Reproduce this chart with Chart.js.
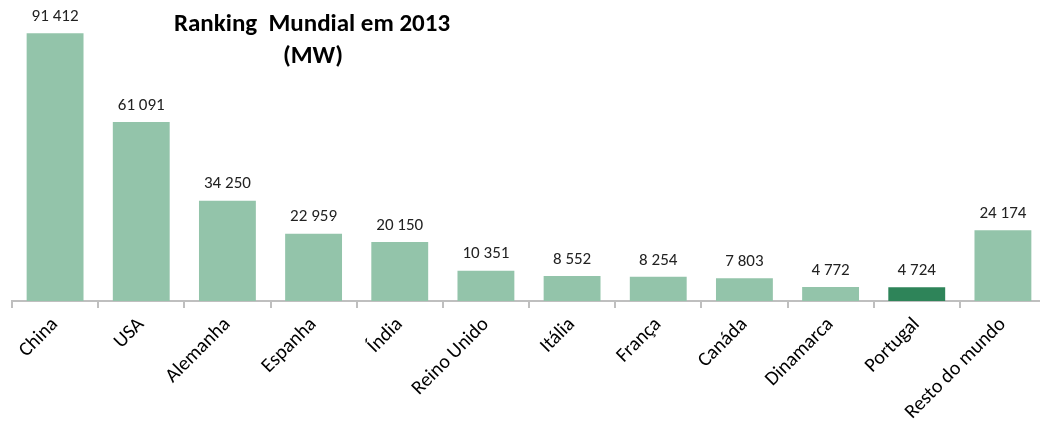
<!DOCTYPE html>
<html>
<head>
<meta charset="utf-8">
<script src="https://cdn.jsdelivr.net/npm/chart.js@4/dist/chart.umd.min.js"></script>
<style>
  html, body { margin: 0; padding: 0; background: #fff; overflow: hidden; }
  #wrap { width: 1046px; height: 423px; }
</style>
</head>
<body>
<div id="wrap"><canvas id="rankingChart"></canvas></div>
<script>
const countries = ['China', 'USA', 'Alemanha', 'Espanha', 'Índia', 'Reino Unido', 'Itália', 'França', 'Canáda', 'Dinamarca', 'Portugal', 'Resto do mundo'];
const capacityMW = [91412, 61091, 34250, 22959, 20150, 10351, 8552, 8254, 7803, 4772, 4724, 24174];
const highlight = 'Portugal';
const titleLines = ['Ranking  Mundial em 2013', '(MW)'];

const fontFamily = "Calibri, Carlito, 'Open Sans', 'Liberation Sans', sans-serif";

// format numbers with space as thousands separator
const fmt = v => String(v).replace(/\B(?=(\d{3})+(?!\d))/g, ' ');

const barLabels = {
  id: 'barLabels',
  afterDatasetsDraw(chart) {
    const ctx = chart.ctx;
    const meta = chart.getDatasetMeta(0);
    ctx.save();
    ctx.font = "17px " + fontFamily;
    ctx.fillStyle = '#222';
    ctx.textAlign = 'center';
    ctx.textBaseline = 'bottom';
    meta.data.forEach((bar, i) => {
      ctx.fillText(fmt(capacityMW[i]), bar.x, bar.y - 8);
    });
    ctx.restore();
  }
};

const titleText = {
  id: 'titleText',
  afterDraw(chart) {
    const ctx = chart.ctx;
    ctx.save();
    ctx.font = "bold 25px " + fontFamily;
    ctx.fillStyle = '#000';
    ctx.textAlign = 'center';
    ctx.textBaseline = 'middle';
    ctx.fillText(titleLines[0], 312, 25);
    ctx.fillText(titleLines[1], 313, 57);
    ctx.restore();
  }
};

new Chart(document.getElementById('rankingChart'), {
  type: 'bar',
  data: {
    labels: countries,
    datasets: [{
      data: capacityMW,
      backgroundColor: countries.map(c => c === highlight ? '#2E8459' : '#93C4AA'),
      borderWidth: 0,
      categoryPercentage: 1,
      barPercentage: 0.66
    }]
  },
  options: {
    responsive: true,
    maintainAspectRatio: false,
    animation: false,
    layout: { padding: { left: 12, right: 0, top: 8, bottom: 0 } },
    plugins: { legend: { display: false }, tooltip: { enabled: false } },
    scales: {
      y: { display: false, min: 0, max: 100000 },
      x: {
        grid: { drawOnChartArea: false, color: '#BFBFBF', tickLength: 7, lineWidth: 2 },
        border: { color: '#BFBFBF', width: 2 },
        ticks: {
          maxRotation: 45, minRotation: 45,
          color: '#000',
          font: { family: fontFamily, size: 20 },
          padding: 5
        },
        afterFit(scale) { scale.height = 122; }
      }
    }
  },
  plugins: [barLabels, titleText]
});
</script>
</body>
</html>
